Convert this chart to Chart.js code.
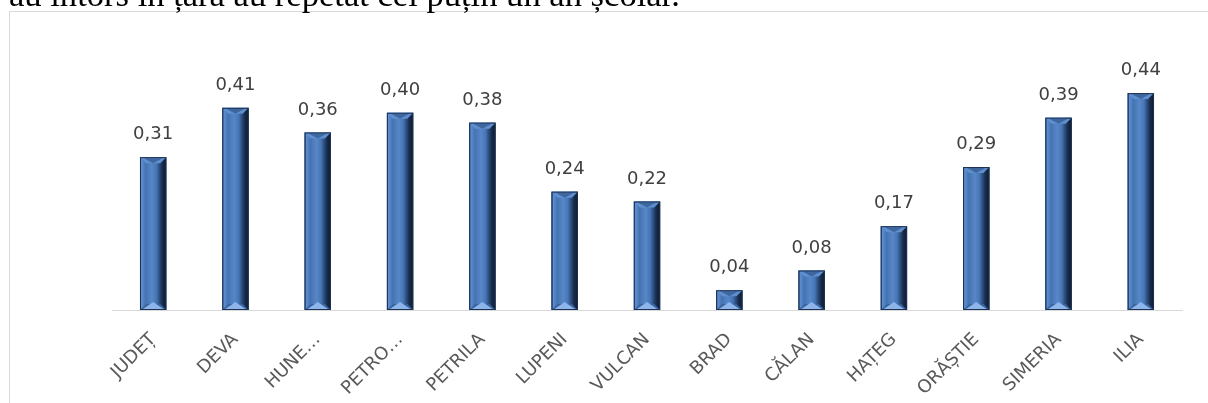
<!DOCTYPE html>
<html>
<head>
<meta charset="utf-8">
<script src="https://cdn.jsdelivr.net/npm/chart.js@4.4.0/dist/chart.umd.min.js"></script>
<style>
  html, body { margin: 0; padding: 0; background: #ffffff; }
  #wrap { position: relative; width: 1208px; height: 403px; overflow: hidden; background: #fff; }
  #box { position: absolute; left: 9px; top: 11px; width: 1400px; height: 600px; border: 1px solid #d9d9d9; box-sizing: border-box; }
  #intro { position: absolute; left: 0; top: 0; }
  #chart { position: absolute; left: 0; top: 0; }
</style>
</head>
<body>
<div id="wrap">
  <div id="box"></div>
  <canvas id="intro" width="1208" height="30"></canvas>
  <canvas id="chart" width="1208" height="403"></canvas>
</div>
<script>
// ---- data ----
const categories = ['JUDEȚ', 'DEVA', 'HUNEDOARA', 'PETROȘANI', 'PETRILA', 'LUPENI', 'VULCAN', 'BRAD', 'CĂLAN', 'HAȚEG', 'ORĂȘTIE', 'SIMERIA', 'ILIA'];
const tickLabels = ['JUDEȚ', 'DEVA', 'HUNE…', 'PETRO…', 'PETRILA', 'LUPENI', 'VULCAN', 'BRAD', 'CĂLAN', 'HAȚEG', 'ORĂȘTIE', 'SIMERIA', 'ILIA'];
const values = [0.31, 0.41, 0.36, 0.40, 0.38, 0.24, 0.22, 0.04, 0.08, 0.17, 0.29, 0.39, 0.44];
const introText = 'au întors în țară au repetat cel puțin un an școlar.';

// ---- cut-off paragraph line above the chart ----
(function () {
  const c = document.getElementById('intro');
  const ctx = c.getContext('2d');
  let size = 26;
  ctx.font = size + 'px "Liberation Serif"';
  const w = ctx.measureText(introText).width;
  size = size * 671 / w;
  ctx.font = size + 'px "Liberation Serif"';
  ctx.fillStyle = '#000';
  ctx.textBaseline = 'alphabetic';
  ctx.fillText(introText, 9, 6);
})();

const fmt = v => v.toFixed(2).replace('.', ',');

const bevelPlugin = {
  id: 'bevel',
  afterDatasetsDraw(chart) {
    const ctx = chart.ctx;
    const meta = chart.getDatasetMeta(0);
    ctx.save();
    meta.data.forEach((bar, i) => {
      const p = bar.getProps(['x', 'y', 'base', 'width'], true);
      const x0 = p.x - p.width / 2, x1 = p.x + p.width / 2;
      const top = Math.min(p.y, p.base), bottom = Math.max(p.y, p.base);
      const h = bottom - top;
      const xc = p.x;
      const g = ctx.createLinearGradient(x0, 0, x1, 0);
      g.addColorStop(0, '#2b4c80');
      g.addColorStop(0.06, '#5d8fd2');
      g.addColorStop(0.22, '#4573b2');
      g.addColorStop(0.45, '#5887c8');
      g.addColorStop(0.62, '#4776b6');
      g.addColorStop(0.74, '#2c4e80');
      g.addColorStop(0.85, '#182c4b');
      g.addColorStop(1, '#0e1a2c');
      ctx.fillStyle = g;
      ctx.fillRect(x0, top, x1 - x0, h);
      const b = Math.min(6, h / 2);
      // top bevel
      ctx.fillStyle = '#5f8fcf';
      ctx.beginPath();
      ctx.moveTo(x0, top); ctx.lineTo(x1, top); ctx.lineTo(x1 - b, top + b); ctx.lineTo(x0 + b, top + b); ctx.closePath();
      ctx.fill();
      ctx.fillStyle = '#3f679f';
      ctx.beginPath();
      ctx.moveTo(x0 + 4, top + 1); ctx.lineTo(x1 - 4, top + 1); ctx.lineTo(xc, top + b); ctx.closePath();
      ctx.fill();
      // bottom bevel
      ctx.fillStyle = '#3a64a0';
      ctx.beginPath();
      ctx.moveTo(x0, bottom); ctx.lineTo(x1, bottom); ctx.lineTo(x1 - b, bottom - b); ctx.lineTo(x0 + b, bottom - b); ctx.closePath();
      ctx.fill();
      ctx.fillStyle = '#8db5ea';
      ctx.beginPath();
      ctx.moveTo(x0 + 3, bottom - 1); ctx.lineTo(x1 - 3, bottom - 1); ctx.lineTo(xc, bottom - b - 2); ctx.closePath();
      ctx.fill();
      // outline
      ctx.strokeStyle = '#1d3153';
      ctx.lineWidth = 1;
      ctx.strokeRect(x0 + 0.5, top + 0.5, x1 - x0 - 1, h - 1);
      // value label
      ctx.fillStyle = '#404040';
      ctx.font = '18px "DejaVu Sans"';
      ctx.textAlign = 'center';
      ctx.textBaseline = 'alphabetic';
      ctx.fillText(fmt(values[i]), xc, top - 18);
    });
    ctx.restore();
  }
};

new Chart(document.getElementById('chart'), {
  type: 'bar',
  data: {
    labels: tickLabels,
    datasets: [{
      label: 'valoare',
      data: values,
      backgroundColor: '#4a7ebb',
      borderWidth: 0,
      barPercentage: 0.32,
      categoryPercentage: 1.0
    }]
  },
  options: {
    responsive: false,
    animation: false,
    devicePixelRatio: 1,
    layout: { padding: { left: 112, right: 26, top: 63.5, bottom: 0 } },
    plugins: { legend: { display: false }, tooltip: { enabled: false } },
    scales: {
      x: {
        grid: { display: false, drawTicks: false },
        border: { display: true, color: '#d9d9d9', width: 1 },
        ticks: {
          autoSkip: false,
          minRotation: 45,
          maxRotation: 45,
          padding: 19,
          color: '#595959',
          font: { family: '"DejaVu Sans"', size: 18 }
        },
        afterFit(scale) { scale.height = 93; }
      },
      y: {
        display: false,
        min: 0,
        max: 0.5
      }
    }
  },
  plugins: [bevelPlugin]
});
</script>
</body>
</html>
